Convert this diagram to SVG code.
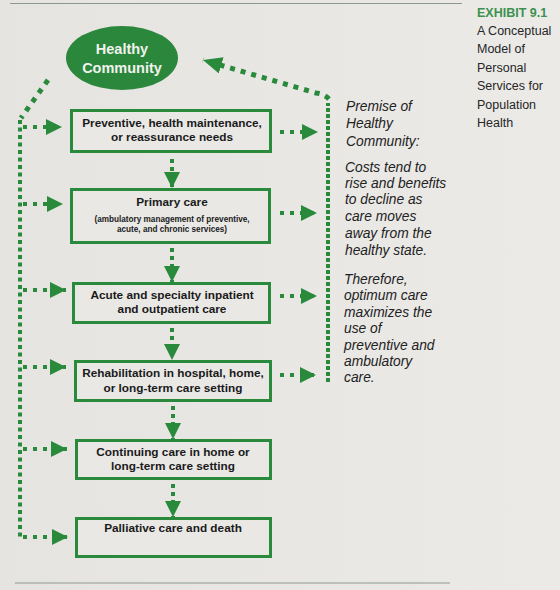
<svg xmlns="http://www.w3.org/2000/svg" width="560" height="590" viewBox="0 0 560 590">
  <defs>
    <linearGradient id="paper" x1="0" y1="0" x2="1" y2="0">
      <stop offset="0" stop-color="#e5e4e1"/>
      <stop offset="1" stop-color="#ebeae7"/>
    </linearGradient>
    <marker id="head" viewBox="0 0 16 16" refX="16" refY="8" markerWidth="16" markerHeight="16" markerUnits="userSpaceOnUse" orient="auto">
      <path d="M0,0 L16,8 L0,16 Z" fill="#2a8a3c"/>
    </marker>
    <marker id="headBig" viewBox="0 0 19 17" refX="19" refY="8.5" markerWidth="19" markerHeight="17" markerUnits="userSpaceOnUse" orient="auto">
      <path d="M0,0 L19,8.5 L0,17 Z" fill="#2a8a3c"/>
    </marker>
    <style>
      .box { fill: #e9e8e5; stroke: #2a8a3c; stroke-width: 3; }
      .lbl { font-family: "Liberation Sans", Arial, sans-serif; font-weight: bold; font-size: 11.8px; fill: #1a1a1a; text-anchor: middle; }
      .sub { font-family: "Liberation Sans", Arial, sans-serif; font-weight: bold; font-size: 8.2px; fill: #1a1a1a; text-anchor: middle; }
      .hc { font-family: "Liberation Sans", Arial, sans-serif; font-weight: bold; font-size: 14.5px; fill: #f2f2ee; text-anchor: middle; }
      .note { font-family: "Liberation Sans", Arial, sans-serif; font-style: italic; font-size: 13.8px; fill: #222; }
      .cap { font-family: "Liberation Sans", Arial, sans-serif; font-size: 12.5px; fill: #262626; }
      .capT { font-family: "Liberation Sans", Arial, sans-serif; font-weight: bold; font-size: 12.5px; fill: #3d9150; }
      .rule { stroke: #8f9890; stroke-width: 1.2; }
      .dv { fill: none; stroke: #2a8a3c; stroke-width: 4; stroke-dasharray: 4 3.5; }
      .dvr { fill: none; stroke: #2a8a3c; stroke-width: 4; stroke-dasharray: 4 2; }
      .dd { fill: none; stroke: #2a8a3c; stroke-width: 5; stroke-dasharray: 5 6; }
      .dh { fill: none; stroke: #2a8a3c; stroke-width: 4; stroke-dasharray: 4 6; }
      .ddn { fill: none; stroke: #2a8a3c; stroke-width: 4; stroke-dasharray: 4 4; }
    </style>
  </defs>

  <rect width="560" height="590" fill="url(#paper)"/>

  <!-- page rules -->
  <line class="rule" x1="10" y1="3.5" x2="462" y2="3.5"/>
  <line class="rule" x1="15" y1="583" x2="450" y2="583"/>

  <!-- exhibit caption -->
  <g id="caption">
    <text class="capT" x="477" y="16.5">EXHIBIT 9.1</text>
    <text class="cap" x="477" y="35">A Conceptual</text>
    <text class="cap" x="477" y="53">Model of</text>
    <text class="cap" x="477" y="71.5">Personal</text>
    <text class="cap" x="477" y="90">Services for</text>
    <text class="cap" x="477" y="108.5">Population</text>
    <text class="cap" x="477" y="127">Health</text>
  </g>

  <!-- connectors -->
  <g id="connectors">
    <!-- left return path -->
    <path class="dd" d="M48,80 L21,118"/>
    <path class="dv" d="M20,120 L20,539"/>
    <line class="dh" x1="23" y1="127" x2="62" y2="127" marker-end="url(#head)"/>
    <line class="dh" x1="23" y1="204" x2="63" y2="204" marker-end="url(#head)"/>
    <line class="dh" x1="23" y1="290" x2="66" y2="290" marker-end="url(#head)"/>
    <line class="dh" x1="23" y1="367" x2="66" y2="367" marker-end="url(#head)"/>
    <line class="dh" x1="23" y1="449" x2="67" y2="449" marker-end="url(#head)"/>
    <line class="dh" x1="23" y1="537" x2="68" y2="537" marker-end="url(#head)"/>

    <!-- right side to premise column -->
    <line class="dh" x1="280" y1="132" x2="318" y2="132" marker-end="url(#head)"/>
    <line class="dh" x1="280" y1="213" x2="317" y2="213" marker-end="url(#head)"/>
    <line class="dh" x1="280" y1="296" x2="317" y2="296" marker-end="url(#head)"/>
    <line class="dh" x1="280" y1="375" x2="316" y2="375" marker-end="url(#head)"/>
    <path class="dvr" d="M328,382 L328,103"/>
    <path class="dd" d="M329,99 Q324,94 316,93 L203,60" marker-end="url(#headBig)"/>

    <!-- downward flow between care levels -->
    <line class="ddn" x1="172" y1="159" x2="172" y2="188" marker-end="url(#head)"/>
    <line class="ddn" x1="172" y1="248" x2="172" y2="282" marker-end="url(#head)"/>
    <line class="ddn" x1="172" y1="328" x2="172" y2="360" marker-end="url(#head)"/>
    <line class="ddn" x1="173" y1="406" x2="173" y2="439" marker-end="url(#head)"/>
    <line class="ddn" x1="173" y1="484" x2="173" y2="517" marker-end="url(#head)"/>
  </g>

  <!-- nodes -->
  <g id="healthy-community">
    <ellipse cx="122" cy="58" rx="56" ry="32" fill="#2b873c"/>
    <text class="hc" x="122" y="54">Healthy</text>
    <text class="hc" x="122" y="73">Community</text>
  </g>

  <g id="preventive">
    <rect class="box" x="71.5" y="110.5" width="199" height="41"/>
    <text class="lbl" x="172" y="127">Preventive, health maintenance,</text>
    <text class="lbl" x="172" y="141">or reassurance needs</text>
  </g>

  <g id="primary-care">
    <rect class="box" x="71.5" y="189.5" width="198" height="53"/>
    <text class="lbl" x="172" y="206">Primary  care</text>
    <text class="sub" x="172" y="222">(ambulatory management of preventive,</text>
    <text class="sub" x="172" y="231.5">acute, and chronic services)</text>
  </g>

  <g id="acute-care">
    <rect class="box" x="73.5" y="283.5" width="196" height="39"/>
    <text class="lbl" x="172" y="299">Acute and specialty inpatient</text>
    <text class="lbl" x="172" y="313">and outpatient care</text>
  </g>

  <g id="rehabilitation">
    <rect class="box" x="75.5" y="361.5" width="195" height="39"/>
    <text class="lbl" x="173" y="377">Rehabilitation in hospital, home,</text>
    <text class="lbl" x="173" y="392">or long-term care setting</text>
  </g>

  <g id="continuing-care">
    <rect class="box" x="76.5" y="440.5" width="194" height="38"/>
    <text class="lbl" x="173" y="456">Continuing care in home or</text>
    <text class="lbl" x="173" y="470">long-term care setting</text>
  </g>

  <g id="palliative-care">
    <rect class="box" x="76.5" y="518.5" width="194" height="38"/>
    <text class="lbl" x="173" y="532">Palliative care and death</text>
  </g>

  <!-- premise column -->
  <g id="premise">
    <text class="note" x="346" y="111">Premise of</text>
    <text class="note" x="346" y="128">Healthy</text>
    <text class="note" x="346" y="146">Community:</text>
    <text class="note" x="345" y="172">Costs tend to</text>
    <text class="note" x="345" y="188">rise and benefits</text>
    <text class="note" x="345" y="204">to decline as</text>
    <text class="note" x="345" y="221">care moves</text>
    <text class="note" x="345" y="238">away from the</text>
    <text class="note" x="345" y="255">healthy state.</text>
    <text class="note" x="344" y="284">Therefore,</text>
    <text class="note" x="344" y="300">optimum care</text>
    <text class="note" x="344" y="317">maximizes the</text>
    <text class="note" x="344" y="333">use of</text>
    <text class="note" x="344" y="350">preventive and</text>
    <text class="note" x="344" y="366">ambulatory</text>
    <text class="note" x="344" y="382">care.</text>
  </g>
</svg>
